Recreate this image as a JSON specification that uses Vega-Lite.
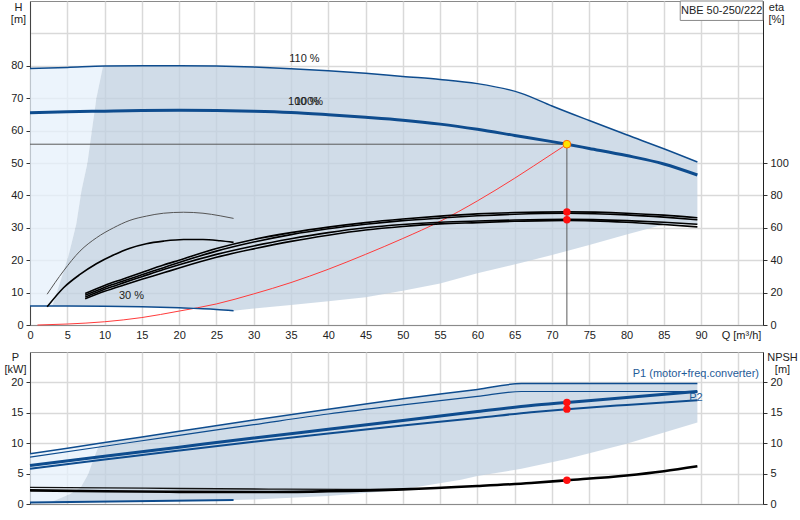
{
  "$schema": "https://vega.github.io/schema/vega-lite/v6.json",
  "padding": {"left": 3, "top": 0, "right": 0, "bottom": 0},
  "background": "white",
  "config": {
    "font": "Liberation Sans",
    "view": {"stroke": "#8a8a8a", "strokeWidth": 1},
    "axis": {
      "labelFont": "Liberation Sans", "labelFontSize": 11, "labelColor": "#222",
      "titleFont": "Liberation Sans", "titleFontSize": 11, "titleFontWeight": "normal", "titleColor": "#222",
      "domainColor": "#444", "tickColor": "#333", "gridColor": "#d9d9d9", "gridWidth": 1.5,
      "labelOverlap": false, "labelFlush": false
    },
    "text": {"font": "Liberation Sans", "fontSize": 11}
  },
  "datasets": {
    "hArea": [
      {"zone": "light", "Q": 0, "top": 79.2, "bottom": 5.9},
      {"zone": "light", "Q": 3.0, "top": 79.4, "bottom": 5.9},
      {"zone": "light", "Q": 4.0, "top": 79.5, "bottom": 13},
      {"zone": "light", "Q": 5.1, "top": 79.6, "bottom": 20.8},
      {"zone": "light", "Q": 6.2, "top": 79.6, "bottom": 31.1},
      {"zone": "light", "Q": 6.9, "top": 79.7, "bottom": 41.4},
      {"zone": "light", "Q": 7.7, "top": 79.7, "bottom": 50},
      {"zone": "light", "Q": 8.3, "top": 79.8, "bottom": 60},
      {"zone": "light", "Q": 8.9, "top": 79.8, "bottom": 70},
      {"zone": "light", "Q": 9.8, "top": 79.9, "bottom": 79.9},
      {"zone": "range", "Q": 3.0, "top": 5.9, "bottom": 5.9},
      {"zone": "range", "Q": 4.0, "top": 13, "bottom": 5.9},
      {"zone": "range", "Q": 5.1, "top": 20.8, "bottom": 5.9},
      {"zone": "range", "Q": 6.2, "top": 31.1, "bottom": 5.85},
      {"zone": "range", "Q": 6.9, "top": 41.4, "bottom": 5.85},
      {"zone": "range", "Q": 7.7, "top": 50, "bottom": 5.8},
      {"zone": "range", "Q": 8.3, "top": 60, "bottom": 5.8},
      {"zone": "range", "Q": 8.9, "top": 70, "bottom": 5.8},
      {"zone": "range", "Q": 9.8, "top": 79.9, "bottom": 5.8},
      {"zone": "range", "Q": 15, "top": 80.0, "bottom": 5.6},
      {"zone": "range", "Q": 20, "top": 80.0, "bottom": 5.3},
      {"zone": "range", "Q": 25, "top": 79.9, "bottom": 4.8},
      {"zone": "range", "Q": 27.3, "top": 79.8, "bottom": 4.4},
      {"zone": "range", "Q": 30, "top": 79.6, "bottom": 5.1},
      {"zone": "range", "Q": 35, "top": 79.1, "bottom": 6.2},
      {"zone": "range", "Q": 40, "top": 78.5, "bottom": 7.3},
      {"zone": "range", "Q": 45, "top": 77.7, "bottom": 8.6},
      {"zone": "range", "Q": 50, "top": 76.7, "bottom": 10.6},
      {"zone": "range", "Q": 55, "top": 75.8, "bottom": 12.8},
      {"zone": "range", "Q": 60, "top": 74.5, "bottom": 16.0},
      {"zone": "range", "Q": 65.9, "top": 71.5, "bottom": 19.2},
      {"zone": "range", "Q": 70, "top": 67.6, "bottom": 21.6},
      {"zone": "range", "Q": 75, "top": 63.1, "bottom": 24.7},
      {"zone": "range", "Q": 80, "top": 58.7, "bottom": 27.9},
      {"zone": "range", "Q": 85, "top": 54.4, "bottom": 31.0},
      {"zone": "range", "Q": 89.5, "top": 50.3, "bottom": 31.0}
    ],
    "hq": [
      {"curve": "110", "Q": 0, "H": 79.2}, {"curve": "110", "Q": 5, "H": 79.5}, {"curve": "110", "Q": 10, "H": 79.9},
      {"curve": "110", "Q": 15, "H": 80.0}, {"curve": "110", "Q": 20, "H": 80.0}, {"curve": "110", "Q": 25, "H": 79.9},
      {"curve": "110", "Q": 30, "H": 79.6}, {"curve": "110", "Q": 35, "H": 79.1}, {"curve": "110", "Q": 40, "H": 78.5},
      {"curve": "110", "Q": 45, "H": 77.7}, {"curve": "110", "Q": 50, "H": 76.7}, {"curve": "110", "Q": 55, "H": 75.8},
      {"curve": "110", "Q": 60, "H": 74.5}, {"curve": "110", "Q": 65.9, "H": 71.5}, {"curve": "110", "Q": 70, "H": 67.6},
      {"curve": "110", "Q": 75, "H": 63.1}, {"curve": "110", "Q": 80, "H": 58.7}, {"curve": "110", "Q": 85, "H": 54.4},
      {"curve": "110", "Q": 89.5, "H": 50.3},
      {"curve": "100", "Q": 0, "H": 65.5}, {"curve": "100", "Q": 5, "H": 65.8}, {"curve": "100", "Q": 10, "H": 66.0},
      {"curve": "100", "Q": 15, "H": 66.2}, {"curve": "100", "Q": 20, "H": 66.3}, {"curve": "100", "Q": 25, "H": 66.2},
      {"curve": "100", "Q": 30, "H": 66.0}, {"curve": "100", "Q": 35, "H": 65.6}, {"curve": "100", "Q": 40, "H": 64.9},
      {"curve": "100", "Q": 45, "H": 64.1}, {"curve": "100", "Q": 50, "H": 63.2}, {"curve": "100", "Q": 55, "H": 62.0},
      {"curve": "100", "Q": 60, "H": 60.4}, {"curve": "100", "Q": 65, "H": 58.5}, {"curve": "100", "Q": 70, "H": 56.6},
      {"curve": "100", "Q": 72, "H": 55.8}, {"curve": "100", "Q": 75, "H": 54.5}, {"curve": "100", "Q": 80, "H": 52.3},
      {"curve": "100", "Q": 85, "H": 49.7}, {"curve": "100", "Q": 89.5, "H": 46.3},
      {"curve": "30", "Q": 0, "H": 5.9}, {"curve": "30", "Q": 5, "H": 5.9}, {"curve": "30", "Q": 10, "H": 5.8},
      {"curve": "30", "Q": 15, "H": 5.6}, {"curve": "30", "Q": 20, "H": 5.3}, {"curve": "30", "Q": 25, "H": 4.8},
      {"curve": "30", "Q": 27.3, "H": 4.4},
      {"curve": "system", "Q": 1, "H": 0.0}, {"curve": "system", "Q": 5, "H": 0.3}, {"curve": "system", "Q": 10, "H": 1.0},
      {"curve": "system", "Q": 15, "H": 2.3}, {"curve": "system", "Q": 20, "H": 4.3}, {"curve": "system", "Q": 25, "H": 6.5},
      {"curve": "system", "Q": 30, "H": 9.6}, {"curve": "system", "Q": 35, "H": 13.1}, {"curve": "system", "Q": 40, "H": 17.2},
      {"curve": "system", "Q": 45, "H": 21.8}, {"curve": "system", "Q": 50, "H": 26.7}, {"curve": "system", "Q": 55, "H": 32.0},
      {"curve": "system", "Q": 60, "H": 38.3}, {"curve": "system", "Q": 65, "H": 45.3}, {"curve": "system", "Q": 70, "H": 52.8},
      {"curve": "system", "Q": 72, "H": 55.8}
    ],
    "eta": [
      {"curve": "E1", "Q": 7.4, "eta": 19.4}, {"curve": "E1", "Q": 10, "eta": 24.4}, {"curve": "E1", "Q": 12.5, "eta": 28.4},
      {"curve": "E1", "Q": 15, "eta": 32.4}, {"curve": "E1", "Q": 17.9, "eta": 37.0}, {"curve": "E1", "Q": 20, "eta": 40.0},
      {"curve": "E1", "Q": 25, "eta": 47.2}, {"curve": "E1", "Q": 30, "eta": 52.8}, {"curve": "E1", "Q": 35, "eta": 57.0},
      {"curve": "E1", "Q": 40, "eta": 60.4}, {"curve": "E1", "Q": 45, "eta": 63.2}, {"curve": "E1", "Q": 50, "eta": 65.4},
      {"curve": "E1", "Q": 55, "eta": 67.2}, {"curve": "E1", "Q": 60, "eta": 68.6}, {"curve": "E1", "Q": 65, "eta": 69.4},
      {"curve": "E1", "Q": 72, "eta": 69.8}, {"curve": "E1", "Q": 80, "eta": 69.0}, {"curve": "E1", "Q": 85, "eta": 67.8},
      {"curve": "E1", "Q": 89.5, "eta": 66.2},
      {"curve": "E2", "Q": 7.4, "eta": 18.4}, {"curve": "E2", "Q": 10, "eta": 23.2}, {"curve": "E2", "Q": 12.5, "eta": 27.2},
      {"curve": "E2", "Q": 15, "eta": 31.0}, {"curve": "E2", "Q": 17.9, "eta": 35.4}, {"curve": "E2", "Q": 20, "eta": 38.6},
      {"curve": "E2", "Q": 25, "eta": 45.6}, {"curve": "E2", "Q": 30, "eta": 51.2}, {"curve": "E2", "Q": 35, "eta": 55.8},
      {"curve": "E2", "Q": 40, "eta": 59.4}, {"curve": "E2", "Q": 45, "eta": 62.2}, {"curve": "E2", "Q": 50, "eta": 64.4},
      {"curve": "E2", "Q": 55, "eta": 66.0}, {"curve": "E2", "Q": 60, "eta": 67.4}, {"curve": "E2", "Q": 65, "eta": 68.4},
      {"curve": "E2", "Q": 72, "eta": 69.0}, {"curve": "E2", "Q": 80, "eta": 68.0}, {"curve": "E2", "Q": 85, "eta": 66.6},
      {"curve": "E2", "Q": 89.5, "eta": 65.0},
      {"curve": "E3", "Q": 7.4, "eta": 17.2}, {"curve": "E3", "Q": 10, "eta": 22.0}, {"curve": "E3", "Q": 12.5, "eta": 26.0},
      {"curve": "E3", "Q": 15, "eta": 29.8}, {"curve": "E3", "Q": 17.9, "eta": 34.2}, {"curve": "E3", "Q": 20, "eta": 37.2},
      {"curve": "E3", "Q": 25, "eta": 43.6}, {"curve": "E3", "Q": 30, "eta": 48.8}, {"curve": "E3", "Q": 35, "eta": 53.2},
      {"curve": "E3", "Q": 40, "eta": 57.0}, {"curve": "E3", "Q": 45, "eta": 60.0}, {"curve": "E3", "Q": 50, "eta": 62.0},
      {"curve": "E3", "Q": 55, "eta": 63.4}, {"curve": "E3", "Q": 60, "eta": 64.2}, {"curve": "E3", "Q": 65, "eta": 64.8},
      {"curve": "E3", "Q": 72, "eta": 65.2}, {"curve": "E3", "Q": 80, "eta": 64.4}, {"curve": "E3", "Q": 85, "eta": 63.4},
      {"curve": "E3", "Q": 89.5, "eta": 62.2},
      {"curve": "E4", "Q": 7.4, "eta": 16.2}, {"curve": "E4", "Q": 10, "eta": 20.8}, {"curve": "E4", "Q": 12.5, "eta": 24.6},
      {"curve": "E4", "Q": 15, "eta": 28.2}, {"curve": "E4", "Q": 17.9, "eta": 32.2}, {"curve": "E4", "Q": 20, "eta": 35.2},
      {"curve": "E4", "Q": 25, "eta": 41.8}, {"curve": "E4", "Q": 30, "eta": 47.0}, {"curve": "E4", "Q": 35, "eta": 51.6},
      {"curve": "E4", "Q": 40, "eta": 55.4}, {"curve": "E4", "Q": 45, "eta": 58.6}, {"curve": "E4", "Q": 50, "eta": 60.8},
      {"curve": "E4", "Q": 55, "eta": 62.4}, {"curve": "E4", "Q": 60, "eta": 63.2}, {"curve": "E4", "Q": 65, "eta": 64.0},
      {"curve": "E4", "Q": 72, "eta": 64.6}, {"curve": "E4", "Q": 80, "eta": 63.4}, {"curve": "E4", "Q": 85, "eta": 62.0},
      {"curve": "E4", "Q": 89.5, "eta": 60.6},
      {"curve": "K", "Q": 2.3, "eta": 11.2}, {"curve": "K", "Q": 4.5, "eta": 23.0}, {"curve": "K", "Q": 6.7, "eta": 31.2},
      {"curve": "K", "Q": 8.9, "eta": 37.8}, {"curve": "K", "Q": 11.2, "eta": 43.2}, {"curve": "K", "Q": 13.4, "eta": 47.4},
      {"curve": "K", "Q": 15.6, "eta": 50.2}, {"curve": "K", "Q": 17.9, "eta": 51.8}, {"curve": "K", "Q": 20.6, "eta": 52.8},
      {"curve": "K", "Q": 23.2, "eta": 52.8}, {"curve": "K", "Q": 25.5, "eta": 52.0}, {"curve": "K", "Q": 27.3, "eta": 51.0},
      {"curve": "G", "Q": 2.3, "eta": 19.0}, {"curve": "G", "Q": 4.5, "eta": 33.4}, {"curve": "G", "Q": 6.7, "eta": 45.6},
      {"curve": "G", "Q": 8.9, "eta": 53.8}, {"curve": "G", "Q": 11.2, "eta": 60.0}, {"curve": "G", "Q": 13.4, "eta": 64.6},
      {"curve": "G", "Q": 15.6, "eta": 67.2}, {"curve": "G", "Q": 17.9, "eta": 69.0}, {"curve": "G", "Q": 20.6, "eta": 69.6},
      {"curve": "G", "Q": 23.2, "eta": 69.0}, {"curve": "G", "Q": 25.5, "eta": 67.4}, {"curve": "G", "Q": 27.3, "eta": 65.8}
    ],
    "etaPoints": [{"Q": 72, "eta": 69.8}, {"Q": 72, "eta": 65.0}],
    "dutyLines": [
      {"Q": 0, "Q2": 72, "H": 55.8, "H2": 55.8},
      {"Q": 72, "Q2": 72, "H": 0, "H2": 55.8}
    ],
    "duty": [{"Q": 72, "H": 55.8}],
    "hLabels": [
      {"text": "110 %", "Q": 36.8, "H": 82.2},
      {"text": "100 %", "Q": 36.7, "H": 68.9},
      {"text": "100%", "Q": 37.4, "H": 68.8},
      {"text": "30 %", "Q": 13.6, "H": 8.9}
    ],
    "nameBox": [{"Q": 87.2, "Q2": 98.3, "H": 100, "H2": 94.0}],
    "nameText": [{"name": "NBE 50-250/222", "Q": 92.75, "H": 97.0}],
    "pArea": [
      {"zone": "light", "Q": 0, "top": 8.25, "bottom": 0.25},
      {"zone": "light", "Q": 2.7, "top": 8.75, "bottom": 0.25},
      {"zone": "light", "Q": 5.3, "top": 9.2, "bottom": 1.6},
      {"zone": "light", "Q": 6.8, "top": 9.5, "bottom": 2.7},
      {"zone": "light", "Q": 7.8, "top": 9.7, "bottom": 4.9},
      {"zone": "light", "Q": 8.4, "top": 9.8, "bottom": 7.0},
      {"zone": "light", "Q": 9.1, "top": 9.9, "bottom": 9.2},
      {"zone": "light", "Q": 9.5, "top": 10.0, "bottom": 10.0},
      {"zone": "range", "Q": 2.7, "top": 0.25, "bottom": 0.25},
      {"zone": "range", "Q": 5.3, "top": 1.6, "bottom": 0.3},
      {"zone": "range", "Q": 6.8, "top": 2.7, "bottom": 0.3},
      {"zone": "range", "Q": 7.8, "top": 4.9, "bottom": 0.31},
      {"zone": "range", "Q": 8.4, "top": 7.0, "bottom": 0.32},
      {"zone": "range", "Q": 9.1, "top": 9.2, "bottom": 0.33},
      {"zone": "range", "Q": 9.5, "top": 10.0, "bottom": 0.34},
      {"zone": "range", "Q": 20, "top": 11.95, "bottom": 0.5},
      {"zone": "range", "Q": 27.3, "top": 13.3, "bottom": 0.65},
      {"zone": "range", "Q": 30, "top": 13.8, "bottom": 0.75},
      {"zone": "range", "Q": 40, "top": 15.6, "bottom": 1.3},
      {"zone": "range", "Q": 49, "top": 17.1, "bottom": 2.2},
      {"zone": "range", "Q": 57.8, "top": 18.55, "bottom": 4.0},
      {"zone": "range", "Q": 60, "top": 18.85, "bottom": 4.6},
      {"zone": "range", "Q": 65.9, "top": 19.8, "bottom": 5.8},
      {"zone": "range", "Q": 72, "top": 19.8, "bottom": 7.4},
      {"zone": "range", "Q": 80, "top": 19.8, "bottom": 9.9},
      {"zone": "range", "Q": 89.5, "top": 19.8, "bottom": 13.4}
    ],
    "power": [
      {"curve": "P1max", "Q": 0, "P": 8.25}, {"curve": "P1max", "Q": 10, "P": 10.1}, {"curve": "P1max", "Q": 20, "P": 11.95},
      {"curve": "P1max", "Q": 30, "P": 13.8}, {"curve": "P1max", "Q": 40, "P": 15.6}, {"curve": "P1max", "Q": 50, "P": 17.3},
      {"curve": "P1max", "Q": 60, "P": 18.85}, {"curve": "P1max", "Q": 65.9, "P": 19.8}, {"curve": "P1max", "Q": 89.5, "P": 19.8},
      {"curve": "P2max", "Q": 0, "P": 7.7}, {"curve": "P2max", "Q": 10, "P": 9.5}, {"curve": "P2max", "Q": 20, "P": 11.3},
      {"curve": "P2max", "Q": 30, "P": 13.05}, {"curve": "P2max", "Q": 40, "P": 14.8}, {"curve": "P2max", "Q": 50, "P": 16.3},
      {"curve": "P2max", "Q": 60, "P": 17.7}, {"curve": "P2max", "Q": 65.9, "P": 18.5}, {"curve": "P2max", "Q": 89.5, "P": 18.5},
      {"curve": "P1", "Q": 0, "P": 6.34}, {"curve": "P1", "Q": 10, "P": 7.85}, {"curve": "P1", "Q": 20, "P": 9.35},
      {"curve": "P1", "Q": 30, "P": 10.85}, {"curve": "P1", "Q": 40, "P": 12.3}, {"curve": "P1", "Q": 50, "P": 13.75},
      {"curve": "P1", "Q": 60, "P": 15.2}, {"curve": "P1", "Q": 67.2, "P": 16.2}, {"curve": "P1", "Q": 72, "P": 16.7},
      {"curve": "P1", "Q": 80, "P": 17.5}, {"curve": "P1", "Q": 89.5, "P": 18.5},
      {"curve": "P2", "Q": 0, "P": 5.8}, {"curve": "P2", "Q": 10, "P": 7.3}, {"curve": "P2", "Q": 20, "P": 8.8},
      {"curve": "P2", "Q": 30, "P": 10.25}, {"curve": "P2", "Q": 40, "P": 11.6}, {"curve": "P2", "Q": 50, "P": 12.9},
      {"curve": "P2", "Q": 60, "P": 14.15}, {"curve": "P2", "Q": 67.2, "P": 15.1}, {"curve": "P2", "Q": 72, "P": 15.6},
      {"curve": "P2", "Q": 80, "P": 16.3}, {"curve": "P2", "Q": 89.5, "P": 17.05},
      {"curve": "P30", "Q": 0, "P": 0.25}, {"curve": "P30", "Q": 27.3, "P": 0.65}
    ],
    "powerPoints": [{"Q": 72, "P": 16.7}, {"Q": 72, "P": 15.6}],
    "pLabels": [
      {"text": "P1 (motor+freq.converter)", "Q": 89.3, "P": 21.3},
      {"text": "P2", "Q": 89.3, "P": 17.5}
    ],
    "npsh": [
      {"curve": "N1", "Q": 0, "NPSH": 2.75}, {"curve": "N1", "Q": 10, "NPSH": 2.65}, {"curve": "N1", "Q": 20, "NPSH": 2.55},
      {"curve": "N1", "Q": 32, "NPSH": 2.45}, {"curve": "N1", "Q": 42, "NPSH": 2.4}, {"curve": "N1", "Q": 50, "NPSH": 2.42},
      {"curve": "N2", "Q": 0, "NPSH": 2.25}, {"curve": "N2", "Q": 10, "NPSH": 2.1}, {"curve": "N2", "Q": 20, "NPSH": 2.0},
      {"curve": "N2", "Q": 32, "NPSH": 1.97}, {"curve": "N2", "Q": 40, "NPSH": 2.1}, {"curve": "N2", "Q": 50, "NPSH": 2.4},
      {"curve": "N2", "Q": 60, "NPSH": 2.95}, {"curve": "N2", "Q": 67.2, "NPSH": 3.45}, {"curve": "N2", "Q": 72, "NPSH": 3.9},
      {"curve": "N2", "Q": 80, "NPSH": 4.7}, {"curve": "N2", "Q": 85, "NPSH": 5.4}, {"curve": "N2", "Q": 89.5, "NPSH": 6.2}
    ],
    "npshPoints": [{"Q": 72, "NPSH": 3.9}]
  },
  "vconcat": [
    {
      "width": 733,
      "height": 324,
      "encoding": {
        "x": {
          "field": "Q", "type": "quantitative",
          "scale": {"domain": [0, 98.3], "nice": false, "zero": false},
          "axis": {
            "values": [0, 5, 10, 15, 20, 25, 30, 35, 40, 45, 50, 55, 60, 65, 70, 75, 80, 85, 90, 95],
            "labelExpr": "datum.value > 92 ? '' : datum.label",
            "tickSize": 0, "labelPadding": 4, "grid": true, "domainColor": "#8a8a8a",
            "title": "Q [m³/h]", "titleX": 711, "titleY": 10, "titleAlign": "center", "titleBaseline": "middle"
          }
        }
      },
      "layer": [
        {
          "data": {"name": "hArea"},
          "transform": [{"filter": "datum.zone === 'light'"}],
          "mark": {"type": "area", "color": "#E6F0FB", "opacity": 0.75},
          "encoding": {
            "y": {
              "field": "top", "type": "quantitative",
              "scale": {"domain": [0, 100], "nice": false},
              "axis": {
                "values": [0, 10, 20, 30, 40, 50, 60, 70, 80, 90],
                "labelExpr": "datum.value > 85 ? '' : datum.label",
                "tickOpacity": {"condition": {"test": "datum.value > 85", "value": 0}, "value": 1},
                "tickSize": 4, "labelPadding": 3, "grid": true,
                "title": ["H", "[m]"], "titleAngle": 0, "titleX": -12, "titleY": 0,
                "titleAlign": "center", "titleBaseline": "top", "titleLineHeight": 12
              }
            },
            "y2": {"field": "bottom"}
          }
        },
        {
          "data": {"name": "hArea"},
          "transform": [{"filter": "datum.zone === 'range'"}],
          "mark": {"type": "area", "color": "#C0D0E0", "opacity": 0.75},
          "encoding": {
            "y": {"field": "top", "type": "quantitative", "scale": {"domain": [0, 100], "nice": false}, "axis": null},
            "y2": {"field": "bottom"}
          }
        },
        {
          "data": {"name": "hq"},
          "transform": [{"filter": "datum.curve === 'system'"}],
          "mark": {"type": "line", "color": "#FF3B3B", "strokeWidth": 1, "interpolate": "monotone"},
          "encoding": {
            "y": {"field": "H", "type": "quantitative", "scale": {"domain": [0, 100], "nice": false}, "axis": null}
          }
        },
        {
          "data": {"name": "dutyLines"},
          "mark": {"type": "rule", "color": "#5a5a5a", "strokeWidth": 1},
          "encoding": {
            "x2": {"field": "Q2"},
            "y": {"field": "H", "type": "quantitative", "scale": {"domain": [0, 100], "nice": false}, "axis": null},
            "y2": {"field": "H2"}
          }
        },
        {
          "data": {"name": "hq"},
          "transform": [{"filter": "datum.curve === '110' || datum.curve === '30'"}],
          "mark": {"type": "line", "color": "#0E4C8E", "strokeWidth": 1.5, "interpolate": "monotone"},
          "encoding": {
            "detail": {"field": "curve"},
            "y": {"field": "H", "type": "quantitative", "scale": {"domain": [0, 100], "nice": false}, "axis": null}
          }
        },
        {
          "data": {"name": "hq"},
          "transform": [{"filter": "datum.curve === '100'"}],
          "mark": {"type": "line", "color": "#0E4C8E", "strokeWidth": 3, "interpolate": "monotone"},
          "encoding": {
            "y": {"field": "H", "type": "quantitative", "scale": {"domain": [0, 100], "nice": false}, "axis": null}
          }
        },
        {
          "data": {"name": "eta"},
          "transform": [{"filter": "datum.curve === 'G'"}],
          "mark": {"type": "line", "color": "#555555", "strokeWidth": 1, "interpolate": "monotone"},
          "encoding": {
            "y": {
              "field": "eta", "type": "quantitative",
              "scale": {"domain": [0, 200], "nice": false},
              "axis": {
                "orient": "right", "values": [0, 20, 40, 60, 80, 100], "grid": false,
                "tickSize": 4, "labelPadding": 3, "domainColor": "#222",
                "title": ["eta", "[%]"], "titleAngle": 0, "titleX": 13, "titleY": 0,
                "titleAlign": "center", "titleBaseline": "top", "titleLineHeight": 12
              }
            }
          }
        },
        {
          "data": {"name": "eta"},
          "transform": [{"filter": "datum.curve !== 'G'"}],
          "mark": {"type": "line", "color": "#000000", "strokeWidth": 1.6, "interpolate": "monotone"},
          "encoding": {
            "detail": {"field": "curve"},
            "y": {"field": "eta", "type": "quantitative", "scale": {"domain": [0, 200], "nice": false}, "axis": null}
          }
        },
        {
          "data": {"name": "etaPoints"},
          "mark": {"type": "circle", "color": "#FF1010", "size": 55, "opacity": 1},
          "encoding": {
            "y": {"field": "eta", "type": "quantitative", "scale": {"domain": [0, 200], "nice": false}, "axis": null}
          }
        },
        {
          "data": {"name": "duty"},
          "mark": {"type": "point", "filled": true, "fill": "#FFE400", "stroke": "#FF6A00", "strokeWidth": 1, "size": 60, "opacity": 1},
          "encoding": {
            "y": {"field": "H", "type": "quantitative", "scale": {"domain": [0, 100], "nice": false}, "axis": null}
          }
        },
        {
          "data": {"name": "hLabels"},
          "mark": {"type": "text", "color": "#222", "fontSize": 11, "align": "center", "baseline": "middle"},
          "encoding": {
            "text": {"field": "text"},
            "y": {"field": "H", "type": "quantitative", "scale": {"domain": [0, 100], "nice": false}, "axis": null}
          }
        },
        {
          "data": {"name": "nameBox"},
          "mark": {"type": "rect", "fill": "white", "stroke": "#8a8a8a", "strokeWidth": 1},
          "encoding": {
            "x2": {"field": "Q2"},
            "y": {"field": "H", "type": "quantitative", "scale": {"domain": [0, 100], "nice": false}, "axis": null},
            "y2": {"field": "H2"}
          }
        },
        {
          "data": {"name": "nameText"},
          "mark": {"type": "text", "color": "#222", "fontSize": 11, "align": "center", "baseline": "middle"},
          "encoding": {
            "text": {"field": "name"},
            "y": {"field": "H", "type": "quantitative", "scale": {"domain": [0, 100], "nice": false}, "axis": null}
          }
        }
      ],
      "resolve": {"scale": {"y": "independent"}}
    },
    {
      "width": 733,
      "height": 152,
      "encoding": {
        "x": {
          "field": "Q", "type": "quantitative",
          "scale": {"domain": [0, 98.3], "nice": false, "zero": false},
          "axis": {
            "values": [0, 5, 10, 15, 20, 25, 30, 35, 40, 45, 50, 55, 60, 65, 70, 75, 80, 85, 90, 95],
            "labels": false, "ticks": false, "grid": true, "title": null, "domainColor": "#8a8a8a"
          }
        }
      },
      "layer": [
        {
          "data": {"name": "pArea"},
          "transform": [{"filter": "datum.zone === 'light'"}],
          "mark": {"type": "area", "color": "#E6F0FB", "opacity": 0.75},
          "encoding": {
            "y": {
              "field": "top", "type": "quantitative",
              "scale": {"domain": [0, 25], "nice": false},
              "axis": {
                "values": [0, 5, 10, 15, 20], "tickSize": 4, "labelPadding": 3, "grid": true,
                "title": ["P", "[kW]"], "titleAngle": 0, "titleX": -15, "titleY": -1,
                "titleAlign": "center", "titleBaseline": "top", "titleLineHeight": 12
              }
            },
            "y2": {"field": "bottom"}
          }
        },
        {
          "data": {"name": "pArea"},
          "transform": [{"filter": "datum.zone === 'range'"}],
          "mark": {"type": "area", "color": "#C0D0E0", "opacity": 0.75},
          "encoding": {
            "y": {"field": "top", "type": "quantitative", "scale": {"domain": [0, 25], "nice": false}, "axis": null},
            "y2": {"field": "bottom"}
          }
        },
        {
          "data": {"name": "power"},
          "transform": [{"filter": "datum.curve === 'P1max'"}],
          "mark": {"type": "line", "color": "#0E4C8E", "strokeWidth": 1.5, "interpolate": "monotone"},
          "encoding": {
            "y": {"field": "P", "type": "quantitative", "scale": {"domain": [0, 25], "nice": false}, "axis": null}
          }
        },
        {
          "data": {"name": "power"},
          "transform": [{"filter": "datum.curve === 'P2max'"}],
          "mark": {"type": "line", "color": "#0E4C8E", "strokeWidth": 1.2, "interpolate": "monotone"},
          "encoding": {
            "y": {"field": "P", "type": "quantitative", "scale": {"domain": [0, 25], "nice": false}, "axis": null}
          }
        },
        {
          "data": {"name": "power"},
          "transform": [{"filter": "datum.curve === 'P1'"}],
          "mark": {"type": "line", "color": "#0E4C8E", "strokeWidth": 3, "interpolate": "monotone"},
          "encoding": {
            "y": {"field": "P", "type": "quantitative", "scale": {"domain": [0, 25], "nice": false}, "axis": null}
          }
        },
        {
          "data": {"name": "power"},
          "transform": [{"filter": "datum.curve === 'P2' || datum.curve === 'P30'"}],
          "mark": {"type": "line", "color": "#0E4C8E", "strokeWidth": 2, "interpolate": "monotone"},
          "encoding": {
            "detail": {"field": "curve"},
            "y": {"field": "P", "type": "quantitative", "scale": {"domain": [0, 25], "nice": false}, "axis": null}
          }
        },
        {
          "data": {"name": "npsh"},
          "transform": [{"filter": "datum.curve === 'N1'"}],
          "mark": {"type": "line", "color": "#111111", "strokeWidth": 1.3, "interpolate": "monotone"},
          "encoding": {
            "y": {
              "field": "NPSH", "type": "quantitative",
              "scale": {"domain": [0, 25], "nice": false},
              "axis": {
                "orient": "right", "values": [0, 5, 10, 15, 20], "grid": false,
                "tickSize": 4, "labelPadding": 3, "domainColor": "#222",
                "title": ["NPSH", "[m]"], "titleAngle": 0, "titleX": 19, "titleY": -1,
                "titleAlign": "center", "titleBaseline": "top", "titleLineHeight": 12
              }
            }
          }
        },
        {
          "data": {"name": "npsh"},
          "transform": [{"filter": "datum.curve === 'N2'"}],
          "mark": {"type": "line", "color": "#000000", "strokeWidth": 2.6, "interpolate": "monotone"},
          "encoding": {
            "y": {"field": "NPSH", "type": "quantitative", "scale": {"domain": [0, 25], "nice": false}, "axis": null}
          }
        },
        {
          "data": {"name": "powerPoints"},
          "mark": {"type": "circle", "color": "#FF1010", "size": 55, "opacity": 1},
          "encoding": {
            "y": {"field": "P", "type": "quantitative", "scale": {"domain": [0, 25], "nice": false}, "axis": null}
          }
        },
        {
          "data": {"name": "npshPoints"},
          "mark": {"type": "circle", "color": "#FF1010", "size": 55, "opacity": 1},
          "encoding": {
            "y": {"field": "NPSH", "type": "quantitative", "scale": {"domain": [0, 25], "nice": false}, "axis": null}
          }
        },
        {
          "data": {"name": "pLabels"},
          "mark": {"type": "text", "color": "#1F5B98", "fontSize": 11, "align": "center", "baseline": "middle"},
          "encoding": {
            "text": {"field": "text"},
            "y": {"field": "P", "type": "quantitative", "scale": {"domain": [0, 25], "nice": false}, "axis": null}
          }
        }
      ],
      "resolve": {"scale": {"y": "independent"}}
    }
  ],
  "spacing": 27,
  "bounds": "flush"
}
